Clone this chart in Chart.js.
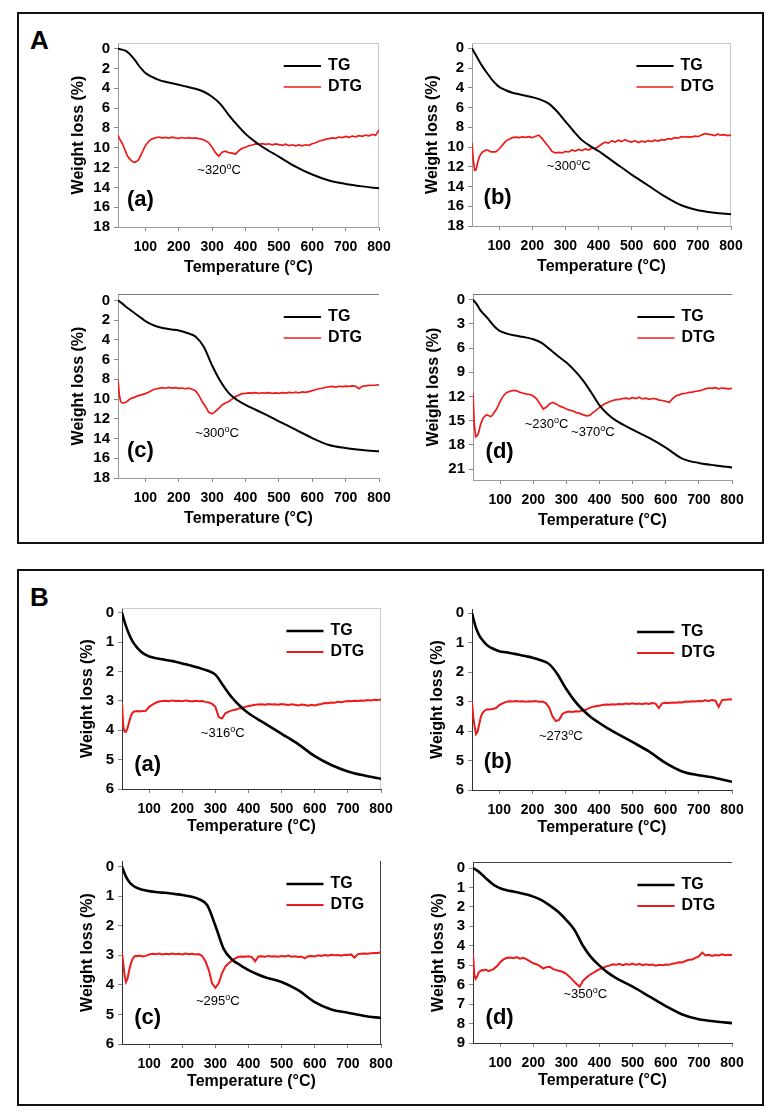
<!DOCTYPE html>
<html>
<head>
<meta charset="utf-8">
<script src="https://cdn.jsdelivr.net/npm/chart.js@4.4.1/dist/chart.umd.min.js"></script>
<style>
  body { margin: 0; background: #fff; width: 774px; height: 1116px; position: relative; font-family: "Liberation Sans", Arial, sans-serif; }
  .panel { position: absolute; border: 2px solid #111; box-sizing: border-box; }
  .plabel { position: absolute; font-weight: bold; font-size: 26px; line-height: 26px; }
  canvas { position: absolute; }
</style>
</head>
<body>
<div class="panel" style="left:17px;top:12px;width:747px;height:532px"></div>
<div class="plabel" style="left:30px;top:27px">A</div>
<div class="panel" style="left:17px;top:569px;width:747px;height:537px"></div>
<div class="plabel" style="left:30px;top:584px">B</div>

<script>
// sample temperatures (°C)
const tgTemps = [18, 30, 40, 50, 60, 70, 80, 90, 100, 120, 140, 160, 180, 200, 225, 250, 275, 300, 325, 350, 375, 400, 425, 450, 500, 550, 600, 650, 700, 750, 800];
const dtgTemps = [18, 22, 26, 30, 35, 40, 45, 50, 55, 60, 65, 70, 75, 80,
  90, 100, 110, 120, 130, 140, 150, 160, 170, 180,
  190, 200, 210, 220, 230, 240, 250, 260, 270, 280,
  290, 300, 310, 320, 330, 340, 350, 360, 370, 380,
  390, 400, 410, 420, 430, 440, 450, 460, 470, 480,
  490, 500, 510, 520, 530, 540, 550, 560, 570, 580,
  590, 600, 610, 620, 630, 640, 650, 660, 670, 680,
  690, 700, 710, 720, 730, 740, 750, 760, 770, 780,
  790, 800];

const xTicks = [100, 200, 300, 400, 500, 600, 700, 800];
const yTicksA = [0, 2, 4, 6, 8, 10, 12, 14, 16, 18];
const yTicksAd = [0, 3, 6, 9, 12, 15, 18, 21];
const yTicksB = [0, 1, 2, 3, 4, 5, 6];
const yTicksBd = [0, 1, 2, 3, 4, 5, 6, 7, 8, 9];

// panel A
const tgAa = [0, 0.1, 0.2, 0.45, 0.8, 1.2, 1.7, 2.1, 2.45, 2.85, 3.15, 3.35, 3.5, 3.65, 3.85, 4.05, 4.35, 4.85, 5.6, 6.7, 7.7, 8.6, 9.3, 9.9, 10.9, 11.9, 12.7, 13.3, 13.65, 13.9, 14.1];
const dtgAa = [8.75, 9.05, 9.3, 9.5, 9.9, 10.3, 10.75, 11.0, 11.2, 11.35, 11.45, 11.45, 11.35, 11.2,
  10.5, 9.8, 9.35, 9.1, 9.0, 8.92, 9.0, 8.95, 9.02, 8.93,
  9.0, 9.05, 8.97, 9.04, 8.98, 9.06, 9.0, 9.08, 9.15, 9.3,
  9.5, 9.95, 10.5, 10.85, 10.45, 10.35, 10.5, 10.55, 10.65, 10.3,
  10.05, 9.95, 9.8, 9.72, 9.62, 9.65, 9.58, 9.66, 9.6, 9.7,
  9.62, 9.68, 9.75, 9.65, 9.78, 9.7, 9.8, 9.72, 9.8, 9.7,
  9.75, 9.6, 9.5, 9.35, 9.25, 9.15, 9.08, 9.0, 9.05, 8.92,
  8.98, 8.85, 8.95, 8.82, 8.9, 8.78, 8.85, 8.72, 8.8, 8.65,
  8.75, 8.2];

const tgAb = [0, 0.7, 1.3, 1.85, 2.35, 2.8, 3.25, 3.6, 3.9, 4.25, 4.5, 4.65, 4.8, 4.95, 5.2, 5.6, 6.4, 7.4, 8.4, 9.3, 9.9, 10.4, 11.0, 11.6, 12.8, 13.9, 15.0, 15.9, 16.4, 16.65, 16.8];
const dtgAb = [9.6, 11.4, 12.35, 12.3, 11.6, 11.0, 10.7, 10.5, 10.4, 10.3, 10.3, 10.4, 10.5, 10.5,
  10.5, 10.2, 9.8, 9.4, 9.2, 9.05, 9.0, 9.05, 8.98, 9.02,
  8.95, 9.05, 8.9, 8.8, 9.15, 9.6, 10.0, 10.45, 10.6, 10.55,
  10.6, 10.45, 10.5, 10.3, 10.4, 10.25, 10.35, 10.2, 10.3, 10.1,
  10.15, 9.95, 9.7, 9.5, 9.6, 9.35, 9.5, 9.3, 9.45, 9.25,
  9.4, 9.5, 9.35, 9.55, 9.4, 9.5, 9.35, 9.45, 9.3, 9.4,
  9.25, 9.3, 9.15, 9.2, 9.05, 9.1, 8.95, 9.0, 8.95, 9.0,
  8.9, 8.95, 8.8, 8.65, 8.7, 8.75, 8.85, 8.7, 8.8, 8.75,
  8.85, 8.8];

const tgAc = [0, 0.3, 0.6, 0.85, 1.1, 1.35, 1.6, 1.85, 2.1, 2.45, 2.7, 2.85, 2.95, 3.05, 3.3, 3.65, 4.7, 6.6, 8.2, 9.4, 10.1, 10.6, 11.0, 11.4, 12.25, 13.1, 13.95, 14.65, 14.95, 15.15, 15.3];
const dtgAc = [8.05, 9.6, 10.25, 10.4, 10.4, 10.35, 10.25, 10.1, 10.0, 9.9, 9.85, 9.78, 9.7, 9.65,
  9.55, 9.45, 9.3, 9.1, 8.98, 8.92, 8.85, 8.9, 8.82, 8.88,
  8.85, 8.92, 8.88, 8.95, 8.9, 9.0, 9.15, 9.6, 10.25, 10.75,
  11.35, 11.5, 11.25, 10.95, 10.6, 10.4, 10.25, 10.0, 9.75, 9.6,
  9.45, 9.42, 9.38, 9.4, 9.35, 9.42, 9.36, 9.4, 9.34, 9.42,
  9.38, 9.42, 9.35, 9.4, 9.32, 9.38, 9.3, 9.36, 9.28, 9.32,
  9.25, 9.15, 9.05, 8.95, 8.9, 8.8, 8.75, 8.72, 8.78, 8.7,
  8.74, 8.68, 8.72, 8.66, 8.7, 8.95, 8.7, 8.66, 8.62, 8.6,
  8.58, 8.55];

const tgAd = [0, 0.6, 1.3, 1.75, 2.2, 2.7, 3.2, 3.6, 3.9, 4.2, 4.4, 4.55, 4.7, 4.9, 5.35, 6.15, 7.0, 7.8, 8.8, 10.0, 11.5, 13.1, 14.2, 15.0, 16.1, 17.15, 18.35, 19.7, 20.25, 20.55, 20.8];
const dtgAd = [11.6, 15.5, 17.0, 16.9, 16.5, 15.6, 15.0, 14.6, 14.4, 14.3, 14.35, 14.5, 14.4, 14.1,
  13.5, 12.6, 11.9, 11.5, 11.35, 11.25, 11.3, 11.5, 11.6, 11.7,
  11.75, 11.95, 12.3, 12.9, 13.55, 13.3, 12.9, 12.75, 12.95, 13.2,
  13.35, 13.55, 13.7, 13.8, 14.0, 14.1, 14.25, 14.4, 14.35, 14.0,
  13.7, 13.35, 13.05, 12.85, 12.65, 12.5, 12.4, 12.35, 12.25, 12.2,
  12.3, 12.15, 12.25, 12.1, 12.3, 12.2, 12.35, 12.25, 12.3, 12.45,
  12.5, 12.6, 12.75, 12.3, 11.95, 11.8, 11.65, 11.6, 11.5, 11.45,
  11.35, 11.3, 11.2, 11.05, 10.95, 11.0, 10.9, 11.05, 10.95, 11.0,
  11.05, 11.0];

// panel B
const tgBa = [0, 0.45, 0.74, 0.97, 1.13, 1.26, 1.36, 1.43, 1.48, 1.54, 1.58, 1.62, 1.66, 1.72, 1.79, 1.87, 1.96, 2.1, 2.5, 2.88, 3.18, 3.42, 3.6, 3.77, 4.12, 4.47, 4.88, 5.18, 5.4, 5.54, 5.65];
const dtgBa = [3.07, 3.9, 4.05, 4.05, 3.92, 3.7, 3.5, 3.4, 3.36, 3.35, 3.34, 3.36, 3.35, 3.34,
  3.33, 3.2, 3.12, 3.06, 3.02, 3.0, 2.99, 3.01, 2.98, 3.0,
  2.99, 3.01, 2.98, 3.0, 3.02, 2.99, 3.01, 3.0, 3.03, 3.05,
  3.1, 3.2, 3.55, 3.6, 3.42, 3.36, 3.32, 3.3, 3.26, 3.24,
  3.2, 3.17, 3.15, 3.13, 3.12, 3.11, 3.13, 3.1, 3.12, 3.11,
  3.13, 3.1, 3.12, 3.14, 3.11, 3.13, 3.15, 3.12, 3.14, 3.16,
  3.13, 3.15, 3.12, 3.1, 3.07, 3.08, 3.05, 3.06, 3.03, 3.04,
  3.02, 3.0, 3.01, 2.99, 3.0, 2.98, 2.99, 2.97, 2.98, 2.96,
  2.97, 2.95];

const tgBb = [0, 0.5, 0.76, 0.92, 1.05, 1.14, 1.2, 1.25, 1.29, 1.33, 1.37, 1.41, 1.46, 1.51, 1.6, 1.73, 2.07, 2.55, 2.95, 3.27, 3.52, 3.72, 3.9, 4.06, 4.37, 4.69, 5.08, 5.37, 5.5, 5.59, 5.72];
const dtgBb = [3.0, 3.55, 3.85, 4.1, 4.02, 3.75, 3.5, 3.38, 3.32, 3.28, 3.26, 3.27, 3.26, 3.25,
  3.22, 3.12, 3.06, 3.01, 2.99, 3.0, 2.98, 3.0, 2.99, 3.01,
  2.99, 3.0, 2.98, 3.01, 3.0, 3.05, 3.2, 3.5, 3.66, 3.62,
  3.42, 3.36, 3.34, 3.35, 3.33, 3.34, 3.3, 3.28, 3.22, 3.18,
  3.16, 3.14, 3.12, 3.1, 3.11, 3.09, 3.1, 3.08, 3.09, 3.07,
  3.08, 3.06, 3.08, 3.07, 3.09, 3.06, 3.08, 3.05, 3.07, 3.22,
  3.06, 3.04, 3.05, 3.03, 3.04, 3.02, 3.03, 3.0, 3.01, 2.99,
  3.0, 2.98, 2.99, 2.96, 2.98, 2.95, 2.97, 3.18, 2.95, 2.94,
  2.93, 2.92];

const tgBc = [0, 0.34, 0.52, 0.63, 0.7, 0.75, 0.78, 0.81, 0.83, 0.86, 0.88, 0.9, 0.93, 0.96, 1.01, 1.1, 1.3, 2.0, 2.78, 3.14, 3.33, 3.5, 3.63, 3.74, 3.9, 4.18, 4.58, 4.83, 4.94, 5.05, 5.12];
const dtgBc = [2.93, 3.3, 3.7, 3.9, 3.77, 3.5, 3.27, 3.12, 3.04, 3.02, 3.03, 3.01, 3.02, 3.04,
  3.02, 2.97, 2.95, 2.96, 2.94, 2.97, 2.95, 2.96, 2.94, 2.96,
  2.95, 2.97, 2.94, 2.96, 2.95, 2.97, 2.96, 3.02, 3.2, 3.5,
  3.95, 4.1, 3.95, 3.6, 3.38, 3.27, 3.18, 3.1, 3.05, 3.04,
  3.05, 3.03, 3.06, 3.2, 3.04, 3.03, 3.05, 3.02, 3.04, 3.03,
  3.05, 3.02, 3.04, 3.01, 3.05, 3.03, 3.06, 3.04, 3.1, 3.03,
  3.02, 3.04, 3.0, 3.02, 2.99, 3.01, 2.98, 3.0, 2.99, 3.01,
  2.98, 2.99, 2.97, 3.08, 2.96, 2.95, 2.94, 2.95, 2.93, 2.92,
  2.92, 2.9];

const tgBd = [0, 0.12, 0.26, 0.41, 0.58, 0.72, 0.86, 0.96, 1.04, 1.14, 1.21, 1.28, 1.36, 1.47, 1.65, 1.93, 2.25, 2.68, 3.2, 4.0, 4.6, 5.02, 5.38, 5.66, 6.1, 6.6, 7.1, 7.53, 7.78, 7.89, 7.98];
const dtgBd = [4.4, 5.5, 5.7, 5.6, 5.38, 5.3, 5.25, 5.28, 5.22, 5.25, 5.3, 5.26, 5.24, 5.2,
  5.05, 4.85, 4.7, 4.62, 4.6, 4.64, 4.58, 4.66, 4.62, 4.7,
  4.8, 4.9, 4.95, 5.05, 5.17, 5.1, 5.08, 5.2, 5.25, 5.3,
  5.35, 5.45, 5.6, 5.78, 5.95, 6.1, 5.8, 5.65, 5.5, 5.4,
  5.3, 5.2, 5.14, 5.06, 5.02, 4.95, 4.98, 4.93, 5.0, 4.94,
  4.97, 4.91, 4.98, 4.93, 5.0, 4.95, 4.99, 4.96, 5.02, 4.98,
  5.0, 4.96, 4.98, 4.92, 4.9, 4.85, 4.86, 4.78, 4.72, 4.7,
  4.62, 4.55, 4.35, 4.5, 4.46, 4.52, 4.48, 4.5, 4.44, 4.48,
  4.46, 4.47];

const RED = '#ee1a1a';
const FONT = '"Liberation Sans", Arial, sans-serif';
Chart.defaults.font.family = FONT;
Chart.defaults.color = '#000';

// plot rectangles [left, top, right, bottom] in page pixels, plus per-plot extras
const subplots = [
  { plot: [118, 43, 379, 227], yMin: -0.57, yMax: 18, yTicks: yTicksA, tg: tgAa, dtg: dtgAa, panel: 'A',
    letter: '(a)', letterAt: [45, 15.3], notes: [['~320', 321, 12.3]], top: '#c8c8c8', right: '#c8c8c8' },
  { plot: [472, 43, 731, 226], yMin: -0.54, yMax: 18, yTicks: yTicksA, tg: tgAb, dtg: dtgAb, panel: 'A',
    letter: '(b)', letterAt: [53, 15.2], notes: [['~300', 310, 12.0]], top: '#c8c8c8', right: '#c8c8c8' },
  { plot: [118, 294, 379, 478], yMin: -0.65, yMax: 18, yTicks: yTicksA, tg: tgAc, dtg: dtgAc, panel: 'A',
    letter: '(c)', letterAt: [45, 15.3], notes: [['~300', 315, 13.45]], top: '#777', right: null },
  { plot: [473, 294, 732, 480], yMin: -0.71, yMax: 22.36, yTicks: yTicksAd, tg: tgAd, dtg: dtgAd, panel: 'A',
    letter: '(d)', letterAt: [56, 18.85], notes: [['~230', 240, 15.5], ['~370', 380, 16.45]], top: '#777', right: null },
  { plot: [122, 608, 381, 789], yMin: -0.17, yMax: 6, yTicks: yTicksB, tg: tgBa, dtg: dtgBa, panel: 'B',
    letter: '(a)', letterAt: [55, 5.17], notes: [['~316', 322, 4.11]], top: '#cccccc', right: '#cccccc' },
  { plot: [472, 609, 732, 790], yMin: -0.14, yMax: 6, yTicks: yTicksB, tg: tgBb, dtg: dtgBb, panel: 'B',
    letter: '(b)', letterAt: [53, 5.04], notes: [['~273', 285, 4.17]], top: null, right: null },
  { plot: [122, 861, 381, 1044], yMin: -0.19, yMax: 6, yTicks: yTicksB, tg: tgBc, dtg: dtgBc, panel: 'B',
    letter: '(c)', letterAt: [55, 5.12], notes: [['~295', 307, 4.56]], top: null, right: '#444' },
  { plot: [473, 862, 732, 1043], yMin: -0.31, yMax: 9, yTicks: yTicksBd, tg: tgBd, dtg: dtgBd, panel: 'B',
    letter: '(d)', letterAt: [56, 7.7], notes: [['~350', 357, 6.5]], top: '#444', right: null }
];

const Y_W = 62, X_H = 56, PAD_T = 16, PAD_R = 22;

// frame, legend, letters and peak notes
const overlay = {
  id: 'overlay',
  beforeDatasetsDraw(chart, args, opts) {
    const { ctx, chartArea: ca } = chart;
    const s = opts.sub;
    ctx.save();
    ctx.lineWidth = 1;
    if (s.top) {
      ctx.strokeStyle = s.top;
      ctx.beginPath(); ctx.moveTo(ca.left, ca.top + 0.5); ctx.lineTo(ca.right, ca.top + 0.5); ctx.stroke();
    }
    if (s.right) {
      ctx.strokeStyle = s.right;
      ctx.beginPath(); ctx.moveTo(ca.right - 0.5, ca.top); ctx.lineTo(ca.right - 0.5, ca.bottom); ctx.stroke();
    }
    ctx.restore();
  },
  afterDatasetsDraw(chart, args, opts) {
    const { ctx, chartArea: ca, scales: { x, y } } = chart;
    const s = opts.sub;
    const isB = s.panel === 'B';
    const w = ca.right - ca.left;
    ctx.save();
    ctx.textBaseline = 'middle';
    ctx.textAlign = 'left';
    [['TG', '#000', isB ? 2.6 : 2], ['DTG', RED, isB ? 2.2 : 1.7]].forEach(([label, color, lw], i) => {
      const yy = ca.top + (i === 0 ? 23 : 44);
      ctx.strokeStyle = color;
      ctx.lineWidth = lw;
      ctx.beginPath();
      ctx.moveTo(ca.left + 0.635 * w, yy);
      ctx.lineTo(ca.left + 0.778 * w, yy);
      ctx.stroke();
      ctx.fillStyle = '#000';
      ctx.font = 'bold 16px ' + FONT;
      ctx.fillText(label, ca.left + 0.805 * w, yy);
    });

    ctx.font = 'bold 22px ' + FONT;
    ctx.fillText(s.letter, x.getPixelForValue(s.letterAt[0]), y.getPixelForValue(s.letterAt[1]));

    s.notes.forEach(([txt, t, v]) => {
      ctx.font = '13px ' + FONT;
      const w1 = ctx.measureText(txt).width;
      const w3 = ctx.measureText('C').width;
      ctx.font = '9px ' + FONT;
      const w2 = ctx.measureText('o').width;
      let px = x.getPixelForValue(t) - (w1 + w2 + w3) / 2;
      const py = y.getPixelForValue(v);
      ctx.font = '13px ' + FONT;
      ctx.fillText(txt, px, py);
      ctx.font = '9px ' + FONT;
      ctx.fillText('o', px + w1, py - 4);
      ctx.font = '13px ' + FONT;
      ctx.fillText('C', px + w1 + w2, py);
    });
    ctx.restore();
  }
};

subplots.forEach((s, k) => {
  const [L, T, R, B] = s.plot;
  const isB = s.panel === 'B';
  const cv = document.createElement('canvas');
  cv.width = R - L + Y_W + PAD_R;
  cv.height = B - T + PAD_T + X_H;
  cv.style.left = (L - Y_W) + 'px';
  cv.style.top = (T - PAD_T) + 'px';
  document.body.appendChild(cv);

  const axisColor = isB ? '#333' : '#999';

  new Chart(cv, {
    type: 'line',
    data: {
      datasets: [
        { label: 'TG', data: tgTemps.map((t, i) => ({ x: t, y: s.tg[i] })),
          borderColor: '#000', borderWidth: isB ? 2.6 : 2, pointRadius: 0, cubicInterpolationMode: 'monotone' },
        { label: 'DTG', data: dtgTemps.map((t, i) => ({ x: t, y: s.dtg[i] })),
          borderColor: RED, borderWidth: isB ? 2 : 1.7, pointRadius: 0, tension: 0 }
      ]
    },
    options: {
      responsive: false,
      animation: false,
      layout: { padding: { top: PAD_T, right: PAD_R, left: 0, bottom: 0 } },
      plugins: { legend: { display: false }, tooltip: { enabled: false }, overlay: { sub: s } },
      scales: {
        x: {
          type: 'linear', min: 18, max: 800,
          afterBuildTicks: sc => { sc.ticks = xTicks.map(v => ({ value: v })); },
          afterFit: sc => { sc.height = X_H; },
          ticks: { font: { size: 14, weight: 'bold' }, padding: 8, maxRotation: 0, autoSkip: false },
          grid: { drawOnChartArea: false, tickLength: 4, tickColor: '#888' },
          border: { color: axisColor, width: 1 },
          title: { display: true, text: 'Temperature (°C)', font: { size: 16, weight: 'bold', lineHeight: 1 },
                   padding: { top: 0, bottom: isB ? 10 : 7 } }
        },
        y: {
          type: 'linear', reverse: true, min: s.yMin, max: s.yMax,
          afterBuildTicks: sc => { sc.ticks = s.yTicks.map(v => ({ value: v })); },
          afterFit: sc => { sc.width = Y_W; },
          ticks: { font: { size: 15, weight: 'bold' }, padding: 4, autoSkip: false },
          grid: { drawOnChartArea: false, tickLength: 4, tickColor: '#888' },
          border: { color: axisColor, width: 1 },
          title: { display: true, text: 'Weight loss (%)', font: { size: 16, weight: 'bold', lineHeight: 1 },
                   padding: { top: isB ? 20 : 15, bottom: 0 } }
        }
      }
    },
    plugins: [overlay]
  });
});
</script>
</body>
</html>
